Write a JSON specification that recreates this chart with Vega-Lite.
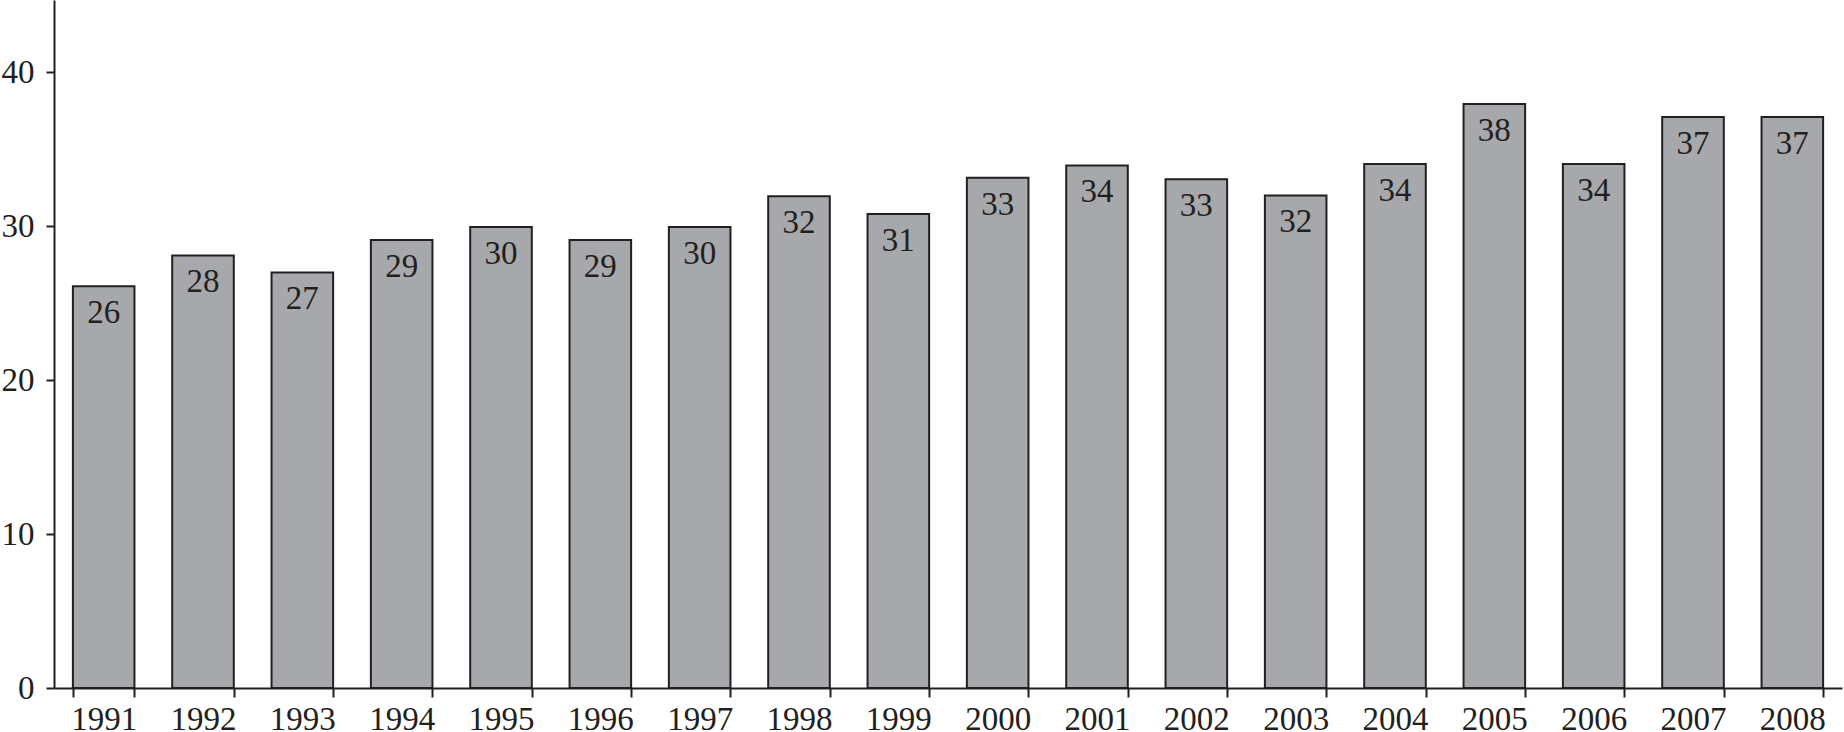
{
  "$schema": "https://vega.github.io/schema/vega-lite/v6.json",
  "width": 1788,
  "height": 688,
  "padding": {"left": 54, "top": 0, "right": 2, "bottom": 44},
  "autosize": {"type": "none"},
  "background": "white",
  "config": {"view": {"stroke": null}},
  "data": {"values": [
    {"year": "1991", "value": 26.1},
    {"year": "1992", "value": 28.1},
    {"year": "1993", "value": 27.0},
    {"year": "1994", "value": 29.1},
    {"year": "1995", "value": 29.95},
    {"year": "1996", "value": 29.1},
    {"year": "1997", "value": 29.95},
    {"year": "1998", "value": 31.95},
    {"year": "1999", "value": 30.8},
    {"year": "2000", "value": 33.15},
    {"year": "2001", "value": 33.95},
    {"year": "2002", "value": 33.05},
    {"year": "2003", "value": 32.0},
    {"year": "2004", "value": 34.05},
    {"year": "2005", "value": 37.95},
    {"year": "2006", "value": 34.05},
    {"year": "2007", "value": 37.1},
    {"year": "2008", "value": 37.1}
  ]},
  "encoding": {
    "x": {
      "field": "year", "type": "ordinal",
      "scale": {"paddingInner": 0.38, "paddingOuter": 0.19},
      "axis": {
        "title": null, "labelAngle": 0, "tickBand": "extent",
        "domainColor": "#231f20", "domainWidth": 2,
        "tickColor": "#231f20", "tickWidth": 2, "tickSize": 9,
        "labelFont": "Liberation Serif", "labelFontSize": 33, "labelColor": "#231f20",
        "labelPadding": 6, "grid": false
      }
    },
    "y": {
      "field": "value", "type": "quantitative",
      "scale": {"domain": [0, 44.7], "nice": false, "zero": true},
      "axis": {
        "title": null, "values": [0, 10, 20, 30, 40],
        "domainColor": "#231f20", "domainWidth": 2,
        "tickColor": "#231f20", "tickWidth": 2, "tickSize": 8,
        "labelFont": "Liberation Serif", "labelFontSize": 33, "labelColor": "#231f20",
        "labelPadding": 12, "grid": false
      }
    }
  },
  "layer": [
    {
      "mark": {"type": "bar", "fill": "#a7a8ab", "stroke": "#231f20", "strokeWidth": 2}
    },
    {
      "mark": {"type": "text", "font": "Liberation Serif", "fontSize": 33, "color": "#231f20", "baseline": "middle", "dy": 27},
      "encoding": {"text": {"field": "value", "type": "quantitative", "format": ".0f"}}
    }
  ]
}
